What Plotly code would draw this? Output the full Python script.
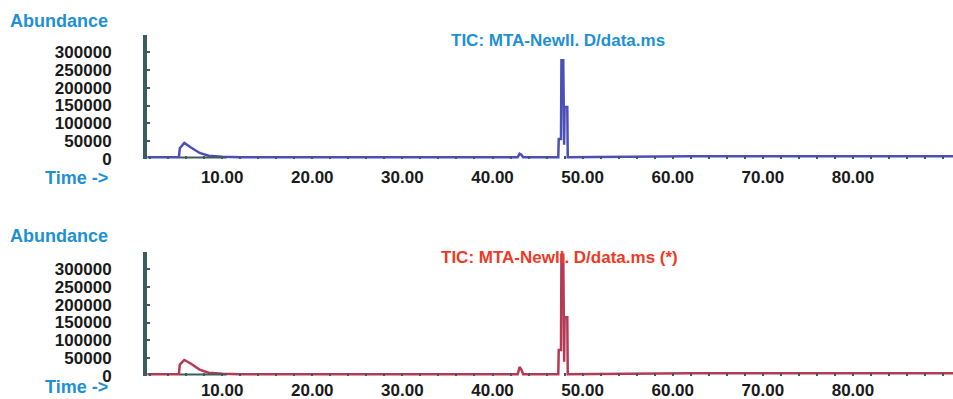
import plotly.graph_objects as go

# ---- data ----
time_top = [1.7, 5.2, 5.3, 5.8, 6.5, 7.5, 8.5, 10.0, 12.0, 42.8, 43.0, 43.2, 43.4, 47.3, 47.35, 47.6, 47.65, 47.85, 47.95, 48.0, 48.3, 48.35, 55.0, 62.0, 70.0, 91.1]
abund_top = [5000, 5000, 30000, 45000, 33000, 17000, 9000, 6000, 5000, 5000, 15000, 12000, 5000, 5000, 56000, 56000, 277000, 277000, 40000, 146000, 146000, 5000, 6000, 8000, 8000, 8000]

time_bot = [1.7, 5.2, 5.3, 5.8, 6.5, 7.5, 8.5, 10.0, 12.0, 42.8, 43.0, 43.2, 43.4, 47.3, 47.35, 47.6, 47.65, 47.85, 47.95, 48.0, 48.3, 48.35, 55.0, 62.0, 70.0, 91.1]
abund_bot = [5000, 5000, 32000, 45000, 35000, 18000, 9000, 6000, 5000, 5000, 25000, 18000, 5000, 5000, 73000, 73000, 340000, 340000, 40000, 165000, 165000, 5000, 6000, 8000, 8000, 8000]

time_dark = [5.3, 10.5]
abund_dark = [4000, 4000]

x_ticks = [10, 20, 30, 40, 50, 60, 70, 80]
x_tick_labels = ["10.00", "20.00", "30.00", "40.00", "50.00", "60.00", "70.00", "80.00"]
y_ticks = [0, 50000, 100000, 150000, 200000, 250000, 300000]
y_tick_labels = ["0", "50000", "100000", "150000", "200000", "250000", "300000"]

title_top = "TIC: MTA-Newll. D/data.ms"
title_bot = "TIC: MTA-Newll. D/data.ms (*)"

W, H = 953, 399
FONT = "Liberation Sans"
BLUE_TXT = "#1e90d4"
RED_TXT = "#ee3a24"
AXIS_DARK = "#3d5c5e"

fig = go.Figure()
fig.add_trace(go.Scatter(x=time_top, y=abund_top, mode="lines",
                         line=dict(color="#4a50b8", width=2.5), xaxis="x", yaxis="y", showlegend=False))
fig.add_trace(go.Scatter(x=time_dark, y=abund_dark, mode="lines",
                         line=dict(color=AXIS_DARK, width=2), xaxis="x", yaxis="y", showlegend=False))
fig.add_trace(go.Scatter(x=time_bot, y=abund_bot, mode="lines",
                         line=dict(color="#b53a55", width=2.5), xaxis="x2", yaxis="y2", showlegend=False))
fig.add_trace(go.Scatter(x=time_dark, y=abund_dark, mode="lines",
                         line=dict(color=AXIS_DARK, width=2), xaxis="x2", yaxis="y2", showlegend=False))

tickfont = dict(family=FONT, size=17, color="#1a1a1a", weight="bold")
xdom = [147 / W, 1.0]
xr = [1.66, 91.1]
yr = [0, 347700]

def xax(anchor, standoff):
    return dict(domain=xdom, range=xr, anchor=anchor, tickvals=x_ticks, ticktext=x_tick_labels,
                tickfont=tickfont, showgrid=False, zeroline=False, showline=False, automargin=False,
                ticks="inside", ticklen=3, tickwidth=2, tickcolor=AXIS_DARK,
                minor=dict(dtick=2, ticks="inside", ticklen=3, tickwidth=2, tickcolor=AXIS_DARK),
                ticklabelstandoff=standoff)

def yax(anchor, dom):
    return dict(domain=dom, range=yr, anchor=anchor, tickvals=y_ticks, ticktext=y_tick_labels,
                tickfont=tickfont, showgrid=False, zeroline=False, showline=True, automargin=False,
                linecolor=AXIS_DARK, linewidth=4, ticks="inside", ticklen=3, tickwidth=2,
                tickcolor=AXIS_DARK, ticklabelstandoff=28)

fig.update_layout(
    width=W, height=H, margin=dict(l=0, r=0, t=0, b=0, autoexpand=False),
    paper_bgcolor="white", plot_bgcolor="white",
    xaxis=xax("y", 6),
    yaxis=yax("x", [1 - 159 / H, 1 - 35 / H]),
    xaxis2=xax("y2", 2),
    yaxis2=yax("x2", [1 - 376 / H, 1 - 252 / H]),
)

ann = [
    dict(text="<b>Abundance</b>", y=1 - 21 / H, anchor="middle"),
    dict(text="<b>Time -></b>", y=1 - 178 / H, anchor="middle"),
    dict(text="<b>Abundance</b>", y=1 - 236 / H, anchor="middle"),
    dict(text="<b>Time -></b>", y=0.0, anchor="bottom"),
]
for a in ann:
    fig.add_annotation(text=a["text"], x=110 / W, y=a["y"], xref="paper", yref="paper",
                       xanchor="right", yanchor=a["anchor"], showarrow=False,
                       font=dict(family=FONT, size=18, color=BLUE_TXT))
fig.add_annotation(text="<b>" + title_top + "</b>", x=558 / W, y=1 - 40 / H, xref="paper", yref="paper",
                   xanchor="center", yanchor="middle", showarrow=False,
                   font=dict(family=FONT, size=17, color=BLUE_TXT))
fig.add_annotation(text="<b>" + title_bot + "</b>", x=559 / W, y=1 - 257 / H, xref="paper", yref="paper",
                   xanchor="center", yanchor="middle", showarrow=False,
                   font=dict(family=FONT, size=17, color=RED_TXT))

fig.write_html("out.html", config={"displayModeBar": False},
               post_script="document.body.style.margin='0';document.body.style.overflow='hidden';")
